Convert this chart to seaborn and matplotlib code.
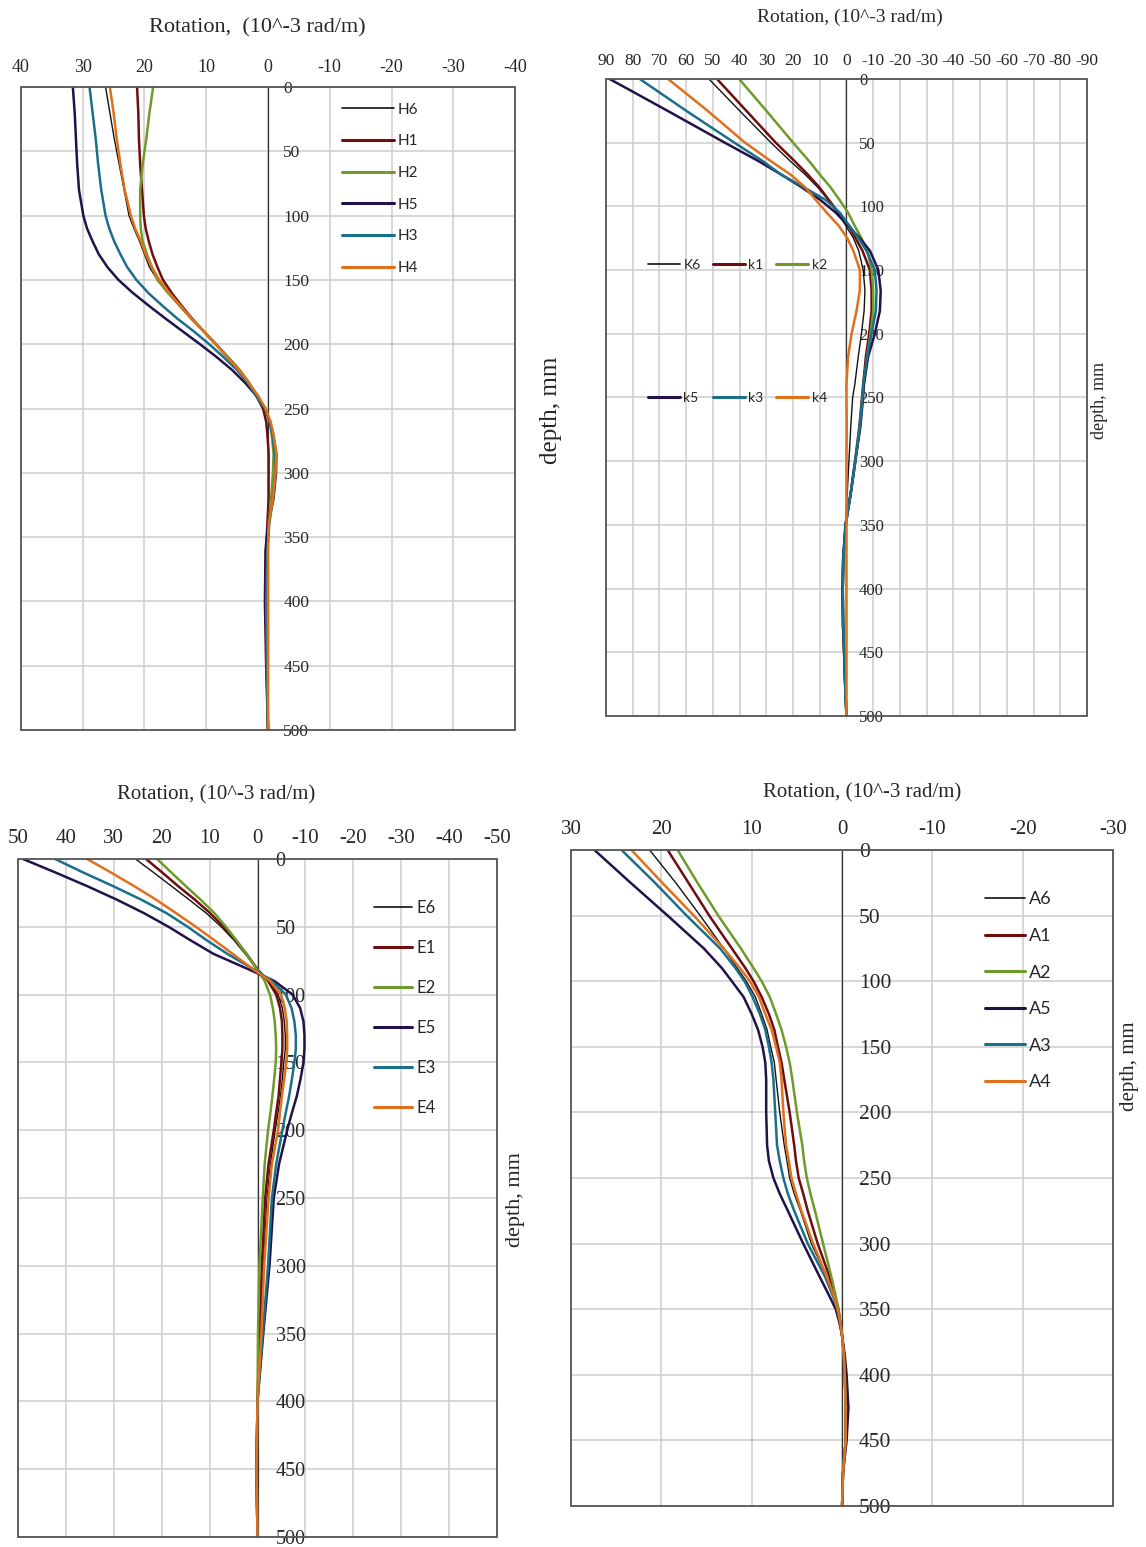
import numpy as np
import matplotlib
matplotlib.use("Agg")
import matplotlib.pyplot as plt
from matplotlib.patches import Rectangle
import seaborn as sns

# ---- data (depth in mm, rotation in 10^-3 rad/m) ----
depth_H = [0, 20, 40, 60, 80, 100, 110, 120, 130, 140, 150, 160, 170, 180, 190, 200,
           210, 220, 230, 240, 250, 260, 270, 285, 300, 320, 340, 360, 400, 450, 500]
H6 = [26.3, 25.6, 24.9, 24.1, 23.3, 22.5, 21.7, 20.8, 20.0, 19.2, 17.9, 16.2, 14.4, 12.5, 10.5, 8.5,
      6.6, 4.7, 3.1, 1.7, 0.5, -0.2, -0.6, -1.0, -1.0, -0.6, -0.2, 0.1, 0.2, 0.1, 0.0]
H1 = [21.2, 21.0, 20.9, 20.7, 20.4, 20.1, 19.8, 19.3, 18.7, 17.9, 17.0, 15.6, 14.0, 12.3, 10.4, 8.4,
      6.5, 4.6, 3.1, 1.9, 0.8, 0.3, 0.1, -0.1, -0.1, -0.1, 0.1, 0.3, 0.3, 0.2, 0.0]
H2 = [18.6, 19.2, 19.7, 20.3, 20.7, 20.7, 20.6, 20.3, 19.6, 18.8, 17.9, 16.2, 14.3, 12.4, 10.4, 8.4,
      6.5, 4.6, 3.1, 1.8, 0.4, -0.3, -0.6, -0.9, -0.8, -0.5, -0.1, 0.1, 0.2, 0.1, 0.0]
H5 = [31.6, 31.3, 31.1, 30.9, 30.6, 29.9, 29.3, 28.4, 27.4, 26.0, 24.2, 21.9, 19.3, 16.6, 13.8, 11.0,
      8.3, 5.8, 3.7, 1.9, 0.5, -0.3, -0.8, -1.35, -1.3, -0.9, 0.0, 0.4, 0.5, 0.3, 0.0]
H3 = [28.9, 28.4, 27.9, 27.5, 27.0, 26.3, 25.7, 24.9, 23.9, 22.8, 21.3, 19.4, 17.1, 14.7, 12.0, 9.5,
      7.2, 5.0, 3.3, 1.9, 0.5, -0.3, -0.7, -1.1, -1.2, -0.8, -0.2, 0.1, 0.3, 0.2, 0.0]
H4 = [25.6, 25.0, 24.5, 23.9, 23.2, 22.2, 21.5, 20.6, 19.8, 18.8, 17.6, 16.0, 14.2, 12.4, 10.4, 8.5,
      6.6, 4.7, 3.1, 1.6, 0.4, -0.4, -0.9, -1.35, -1.2, -0.8, -0.1, 0.0, 0.0, 0.0, 0.0]

depth_K = [0, 25, 50, 65, 75, 85, 95, 105, 115, 125, 135, 150, 166, 182, 200, 218, 240,
           250, 273, 300, 325, 350, 377, 400, 429, 450, 482, 500]
K6 = [51.5, 40.0, 28.3, 20.8, 15.5, 10.8, 6.8, 3.3, 0.3, -2.6, -4.6, -6.25, -6.9, -6.6, -5.6, -4.4, -3.1,
      -2.3, -1.6, -0.9, -0.3, 0.4, 1.0, 1.2, 1.1, 1.0, 0.5, 0.0]
k1 = [48.5, 37.5, 26.5, 19.2, 14.5, 10.2, 6.6, 3.0, -0.8, -3.4, -6.0, -8.75, -9.4, -9.4, -8.5, -7.25, -6.25,
      -5.8, -4.8, -3.2, -1.6, 0.3, 1.2, 1.4, 1.3, 0.9, 0.4, 0.0]
k2 = [40.2, 30.0, 20.0, 13.8, 10.0, 6.0, 2.6, -0.6, -3.0, -5.6, -7.8, -9.4, -10.0, -10.0, -9.0, -7.75, -6.5,
      -6.0, -5.0, -3.3, -1.6, 0.3, 1.2, 1.4, 1.3, 0.9, 0.4, 0.0]
k5 = [88.7, 67.0, 45.6, 32.5, 24.5, 16.8, 9.8, 4.0, -0.5, -5.0, -8.8, -11.9, -12.8, -12.5, -10.6, -8.1, -6.5,
      -6.2, -5.2, -3.3, -1.6, 0.4, 1.3, 1.5, 1.3, 0.9, 0.4, 0.0]
k3 = [77.4, 60.0, 42.0, 31.0, 24.5, 16.0, 7.8, 2.5, -1.0, -4.5, -7.5, -10.6, -11.25, -11.0, -9.4, -7.75, -6.25,
      -6.0, -5.0, -3.3, -1.6, 0.3, 1.2, 1.4, 1.2, 0.8, 0.4, 0.0]
k4 = [66.8, 52.0, 38.0, 28.0, 21.0, 15.5, 11.5, 7.4, 3.0, -0.3, -2.6, -5.0, -5.0, -3.75, -1.9, -0.6, 0.0,
      0.0, -0.1, 0.0, 0.0, 0.0, 0.0, 0.0, 0.0, 0.0, 0.0, 0.0]

depth_E = [0, 10, 20, 30, 40, 50, 60, 70, 82, 90, 100, 110, 120, 130, 140, 150, 162, 175, 187,
           200, 225, 250, 300, 350, 400, 450, 500]
E6 = [25.5, 21.7, 18.0, 14.3, 10.7, 7.6, 4.9, 2.6, -0.1, -2.4, -4.3, -5.2, -5.6, -5.8, -5.8, -5.5, -5.2,
      -4.8, -4.3, -3.7, -2.7, -2.0, -1.2, -0.6, 0.0, 0.2, 0.0]
E1 = [23.3, 19.9, 16.6, 13.1, 9.9, 7.1, 4.5, 2.3, -0.1, -2.2, -3.9, -4.7, -5.1, -5.2, -5.2, -5.0, -4.7,
      -4.4, -3.9, -3.4, -2.3, -1.6, -0.9, -0.4, 0.0, 0.2, 0.0]
E2 = [21.0, 18.0, 15.0, 11.9, 9.0, 6.6, 4.4, 2.4, 0.0, -1.5, -2.6, -3.2, -3.6, -3.8, -3.9, -3.8, -3.5,
      -3.1, -2.7, -2.2, -1.5, -1.1, -0.4, -0.1, 0.0, 0.2, 0.0]
E5 = [49.0, 42.2, 35.6, 29.4, 23.7, 18.6, 14.0, 9.2, 1.5, -3.5, -7.3, -8.9, -9.6, -9.8, -9.8, -9.6, -9.0,
      -8.2, -7.2, -6.2, -4.5, -3.4, -2.5, -1.2, 0.0, 0.2, 0.0]
E3 = [42.3, 36.4, 30.2, 24.3, 19.0, 14.6, 10.6, 6.3, 0.5, -3.0, -5.9, -7.1, -7.7, -8.0, -8.0, -7.7, -7.2,
      -6.6, -5.9, -5.2, -3.9, -3.0, -2.2, -1.1, 0.0, 0.2, 0.0]
E4 = [35.6, 30.6, 25.8, 21.2, 17.0, 12.9, 9.0, 5.2, 0.7, -2.6, -4.9, -5.7, -6.1, -6.2, -6.2, -6.0, -5.6,
      -5.1, -4.7, -4.3, -3.0, -2.3, -1.4, -0.8, 0.0, 0.2, 0.0]

depth_A = [0, 25, 50, 75, 90, 100, 112, 125, 137, 150, 162, 175, 200, 225, 237, 250, 262, 275,
           300, 325, 340, 350, 360, 370, 385, 400, 425, 450, 475, 500]
A6 = [21.3, 18.4, 15.7, 13.1, 11.6, 10.6, 9.6, 8.9, 8.3, 7.9, 7.5, 7.3, 6.9, 6.4, 6.1, 5.8, 5.3, 4.6,
      3.4, 1.7, 0.9, 0.5, 0.2, 0.0, -0.2, -0.3, -0.4, -0.4, -0.1, 0.0]
A1 = [19.3, 17.0, 14.7, 12.2, 10.7, 9.8, 8.9, 8.1, 7.5, 7.1, 6.7, 6.4, 5.8, 5.3, 5.1, 4.8, 4.3, 3.8,
      2.7, 1.4, 0.8, 0.4, 0.2, 0.0, -0.2, -0.3, -0.4, -0.4, -0.1, 0.0]
A2 = [18.2, 16.0, 13.7, 11.2, 9.8, 8.9, 8.0, 7.3, 6.7, 6.2, 5.8, 5.5, 5.0, 4.4, 4.2, 3.9, 3.5, 3.0,
      2.1, 1.2, 0.7, 0.4, 0.2, 0.0, -0.2, -0.3, -0.4, -0.4, -0.1, 0.0]
A5 = [27.4, 23.4, 19.3, 15.3, 13.3, 12.2, 10.9, 10.0, 9.3, 8.8, 8.5, 8.4, 8.4, 8.3, 8.1, 7.6, 6.9, 6.0,
      4.3, 2.5, 1.4, 0.7, 0.3, 0.0, -0.3, -0.5, -0.7, -0.5, -0.1, 0.0]
A3 = [24.4, 20.7, 17.2, 13.5, 11.8, 10.8, 9.9, 9.1, 8.5, 8.1, 7.8, 7.6, 7.4, 7.2, 6.9, 6.5, 6.0, 5.3,
      3.8, 1.9, 1.0, 0.5, 0.2, 0.0, -0.2, -0.3, -0.4, -0.4, -0.1, 0.0]
A4 = [23.3, 19.9, 16.4, 13.1, 11.3, 10.2, 9.2, 8.5, 7.8, 7.3, 6.9, 6.7, 6.5, 6.2, 5.9, 5.6, 5.1, 4.5,
      3.2, 1.7, 0.9, 0.5, 0.2, 0.0, -0.2, -0.3, -0.4, -0.4, -0.1, 0.0]

colors = {"6": "#111111", "1": "#6e0e0e", "2": "#6f9a2c",
          "5": "#21124a", "3": "#1b6f8a", "4": "#e0701b"}

sns.set_style("white")
plt.rcParams["font.family"] = ["Liberation Serif", "DejaVu Serif"]
plt.rcParams["axes.unicode_minus"] = False

fig = plt.figure(figsize=(11.46, 15.47), dpi=100)


def draw_panel(rect, depth, series, xmax, title, title_xy, tsize, xtick_size, xpad,
               ytick_size, ypad, ylab_xy, ylab_size, leg):
    ax = fig.add_axes(rect)
    for name, vals in series:
        key = name[-1]
        sns.lineplot(x=vals, y=depth, orient="y", estimator=None, sort=True,
                     color=colors[key], lw=1.0 if key == "6" else 1.8,
                     label=name, ax=ax, zorder=3)

    ax.set_xlim(xmax, -xmax)
    ax.set_ylim(500, 0)
    ax.set_xticks(np.arange(-xmax, xmax + 1, 10))
    ax.set_yticks(np.arange(0, 501, 50))
    ax.grid(True, color="#cdcdcd", lw=1.1, zorder=0)

    ax.xaxis.tick_top()
    ax.tick_params(axis="x", length=0, pad=xpad, labelsize=xtick_size)
    ax.yaxis.tick_right()
    ax.tick_params(axis="y", length=0, pad=ypad, labelsize=ytick_size)
    for s in ["left", "top", "bottom"]:
        ax.spines[s].set_visible(False)
    ax.spines["right"].set_position(("data", 0))
    ax.spines["right"].set_color("#333333")
    ax.spines["right"].set_linewidth(0.9)
    ax.add_patch(Rectangle((0, 0), 1, 1, transform=ax.transAxes, fill=False,
                           ec="#555555", lw=1.3, zorder=4, clip_on=False))

    ax.xaxis.set_label_position("top")
    ax.set_xlabel(title, fontsize=tsize)
    ax.xaxis.set_label_coords(*title_xy)
    ax.xaxis.label.set_va("center")

    ax.yaxis.set_label_position("right")
    ax.set_ylabel("depth, mm", fontsize=ylab_size)
    ax.yaxis.set_label_coords(*ylab_xy)
    ax.yaxis.label.set_va("center")
    ax.yaxis.label.set_ha("center")

    handles, labels = ax.get_legend_handles_labels()
    order = leg.get("order", range(len(labels)))
    ax.legend([handles[i] for i in order], [labels[i] for i in order],
              loc="upper left", bbox_to_anchor=leg["anchor"], frameon=False,
              prop={"family": ["Lato", "DejaVu Sans"], "size": leg["size"]},
              handlelength=leg["hl"], handletextpad=0.25,
              labelspacing=leg["ls"], ncol=leg.get("ncol", 1),
              columnspacing=leg.get("cs", 1.0),
              borderaxespad=0, borderpad=0)
    for h in ax.get_legend().legend_handles:
        h.set_linewidth(1.2 if h.get_label().endswith("6") else 2.2)
    return ax


draw_panel([0.0183, 0.5281, 0.4311, 0.4156], depth_H,
           [("H6", H6), ("H1", H1), ("H2", H2), ("H5", H5), ("H3", H3), ("H4", H4)],
           40, "Rotation,  (10^-3 rad/m)", (0.478, 1.092), 16, 13, 8,
           12.5, 11, (1.073, 0.498), 18,
           {"anchor": (0.650, 0.976), "size": 11, "hl": 3.4, "ls": 1.16})

draw_panel([0.5288, 0.5372, 0.4197, 0.4118], depth_K,
           [("K6", K6), ("k1", k1), ("k2", k2), ("k5", k5), ("k3", k3), ("k4", k4)],
           90, "Rotation, (10^-3 rad/m)", (0.507, 1.097), 14, 12.5, 7,
           12, 9, (1.027, 0.496), 13,
           {"anchor": (0.087, 0.7168), "size": 10, "hl": 2.3, "ls": 8.7,
            "ncol": 3, "order": [0, 3, 1, 4, 2, 5], "cs": 0.9})

draw_panel([0.0157, 0.0065, 0.418, 0.4383], depth_E,
           [("E6", E6), ("E1", E1), ("E2", E2), ("E5", E5), ("E3", E3), ("E4", E4)],
           50, "Rotation, (10^-3 rad/m)", (0.413, 1.095), 15, 15, 8,
           14.5, 13, (1.038, 0.497), 16,
           {"anchor": (0.743, 0.939), "size": 12, "hl": 2.3, "ls": 1.44})

draw_panel([0.4983, 0.0265, 0.473, 0.424], depth_A,
           [("A6", A6), ("A1", A1), ("A2", A2), ("A5", A5), ("A3", A3), ("A4", A4)],
           30, "Rotation, (10^-3 rad/m)", (0.537, 1.087), 15, 15, 8,
           15.5, 12, (1.031, 0.671), 15,
           {"anchor": (0.764, 0.937), "size": 13, "hl": 2.2, "ls": 1.14})

fig.savefig("out.png", dpi=100)
